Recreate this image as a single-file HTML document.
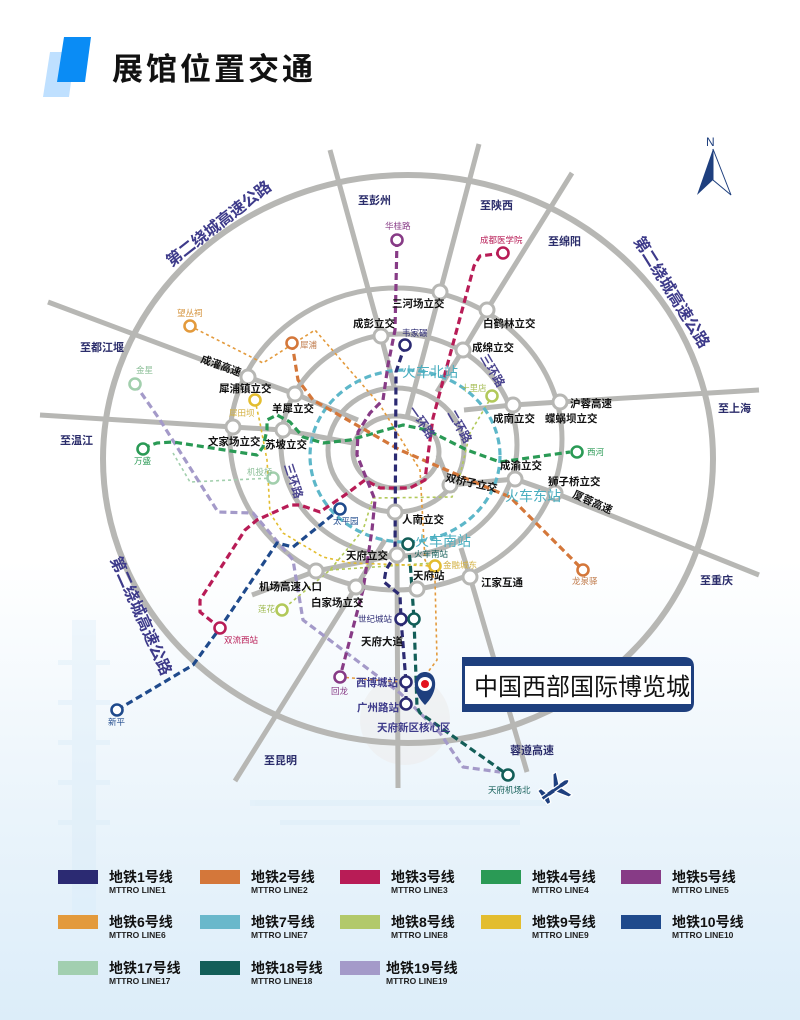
<!DOCTYPE html>
<html><head><meta charset="utf-8"><style>
html,body{margin:0;padding:0}
body{width:800px;height:1020px;overflow:hidden;background:linear-gradient(#ffffff 0%,#ffffff 55%,#eaf4fb 80%,#dcedf9 100%)}
svg{display:block}
text{font-family:"Liberation Sans","Noto Sans CJK SC",sans-serif}
.nl{font-size:10.5px;font-weight:bold;fill:#111}
.dir{font-size:11px;font-weight:bold;fill:#2b2d6b}
.st{font-size:8.5px;font-family:"Liberation Serif","Noto Serif CJK SC",serif}
.rd{fill:none;stroke:#b7b7b4;stroke-width:5}
.nd{fill:#fff;stroke:#b7b7b4;stroke-width:3}
.m{fill:none;stroke-width:3.2;stroke-dasharray:7 4;stroke-linejoin:round}
.d{fill:none;stroke-width:1.6;stroke-dasharray:3 3}
.s{fill:#fff;stroke-width:2.6}
.lg{font-size:14px;font-weight:bold;fill:#111}
.ls{font-size:8.5px;font-weight:bold;fill:#222}
</style></head><body>
<svg width="800" height="1020" viewBox="0 0 800 1020" xmlns="http://www.w3.org/2000/svg">
<!-- faint decorations -->
<circle cx="405" cy="720" r="45" fill="#ececec" opacity="0.6"/>
<g fill="#d6eaf8" opacity="0.35">
<rect x="72" y="620" width="24" height="300"/><rect x="58" y="660" width="52" height="5"/><rect x="58" y="700" width="52" height="5"/><rect x="58" y="740" width="52" height="5"/><rect x="58" y="780" width="52" height="5"/><rect x="58" y="820" width="52" height="5"/>
<rect x="250" y="800" width="300" height="6"/><rect x="280" y="820" width="240" height="5"/>
</g>
<!-- title -->
<polygon points="50,52 75,52 69,97 43,97" fill="#bfe0ff"/>
<polygon points="64,37 91,37 85,82 57,82" fill="#0a8cf5"/>
<text x="112" y="80" style="font-size:31px;font-weight:bold;fill:#111;letter-spacing:3px">展馆位置交通</text>
<!-- north -->
<text x="706" y="146" style="font-size:12px;fill:#1e3f7e">N</text>
<polygon points="713,149 697,195 713,180" fill="#1e3f7e"/>
<polygon points="713,149 731,195 713,180" fill="none" stroke="#1e3f7e" stroke-width="1"/>
<!-- roads -->
<ellipse class="rd" cx="408" cy="459" rx="305" ry="284" style="stroke-width:6"/>
<ellipse class="rd" cx="396" cy="439" rx="166" ry="151"/>
<ellipse class="rd" cx="399" cy="445" rx="118" ry="111"/>
<ellipse class="rd" cx="396" cy="450" rx="68" ry="62"/>
<ellipse class="rd" cx="396" cy="452" rx="43" ry="36"/>
<g class="rd">
<polyline points="330,150 381,336 395,390"/>
<polyline points="479,144 440,292 407,417"/>
<polyline points="572,173 487,310 463,350 437,392"/>
<polyline points="759,390 560,402 513,405 464,410"/>
<polyline points="759,575 555,493 515,479 450,485 438,455"/>
<polyline points="527,772 470,577 461,548"/>
<polyline points="398,788 397,555 396,512"/>
<polyline points="235,781 356,587 385,540"/>
<polyline points="252,595 316,571 397,555"/>
<polyline points="40,415 233,427 283,430 353,443"/>
<polyline points="48,302 248,377 295,394 358,420"/>
</g>
<!-- thin dotted lines -->
<polyline class="d" stroke="#e39a3c" points="190,326 263,363 315,330 380,405 420,470 425,560 435,580 437,660 428,672"/>
<polyline class="d" stroke="#e39a3c" points="340,677 400,682"/>
<polyline class="d" stroke="#b2c95a" points="492,396 470,433 460,475 452,497 373,498 363,530 330,570 282,610"/>
<polyline class="d" stroke="#b2c95a" points="330,570 433,563"/>
<polyline class="d" stroke="#e3bd2f" points="255,400 260,423 267,460 270,513 283,533 323,557 350,563 435,566"/>
<polyline class="d" stroke="#a2cfad" points="273,478 190,482 173,453"/>
<!-- metro lines -->
<ellipse class="m" stroke="#5db7c9" cx="405" cy="456" rx="95" ry="86"/>
<polyline class="m" stroke="#a49ac9" points="135,384 160,420 218,512 253,513 293,560 303,620 400,693 440,733 463,767 500,772"/>
<polyline class="m" stroke="#2a9a55" points="143,448 157,443 173,442 257,455 263,447 267,430 267,420 277,415 290,422 303,437 323,443 350,440 403,425 427,430 467,450 500,462 570,452"/>
<polyline class="m" stroke="#d4773a" points="292,343 298,380 313,400 400,450 493,490 510,497 583,570"/>
<polyline class="m" stroke="#b81c56" points="503,253 480,256 474,266 433,418 428,455 425,480 410,488 380,488 365,480 345,495 320,512 300,505 290,505 257,520 245,530 200,600 200,612 220,628"/>
<polyline class="m" stroke="#873b86" points="397,240 395,330 388,365 383,400 370,413 358,432 357,455 365,475 375,500 372,530 363,590 340,677"/>
<polyline class="m" stroke="#1f4a8c" points="117,710 193,665 220,628 277,543 293,547 340,509"/>
<polyline class="m" stroke="#135e58" points="408,544 410,560 414,619 417,707 420,713 508,775"/>
<polyline class="m" stroke="#2b2a72" points="405,345 396,372 395,555 386,570 384,582 400,595 401,619 406,682 406,704"/>
<!-- road nodes -->
<g class="nd">
<circle cx="440" cy="292" r="7"/><circle cx="487" cy="310" r="7"/><circle cx="381" cy="336" r="7"/><circle cx="463" cy="350" r="7"/>
<circle cx="248" cy="377" r="7"/><circle cx="295" cy="394" r="7"/><circle cx="233" cy="427" r="7"/><circle cx="283" cy="430" r="7"/>
<circle cx="513" cy="405" r="7"/><circle cx="560" cy="402" r="7"/><circle cx="515" cy="479" r="7"/><circle cx="555" cy="493" r="7"/>
<circle cx="450" cy="485" r="7"/><circle cx="395" cy="512" r="7"/><circle cx="397" cy="555" r="7"/><circle cx="316" cy="571" r="7"/>
<circle cx="356" cy="587" r="7"/><circle cx="417" cy="589" r="7"/><circle cx="470" cy="577" r="7"/>
</g>
<!-- metro stations -->
<g class="s">
<circle cx="397" cy="240" r="5.5" stroke="#873b86"/>
<circle cx="503" cy="253" r="5.5" stroke="#b81c56"/>
<circle cx="405" cy="345" r="5.5" stroke="#2b2a72"/>
<circle cx="190" cy="326" r="5.5" stroke="#e39a3c"/>
<circle cx="292" cy="343" r="5.5" stroke="#d4773a"/>
<circle cx="135" cy="384" r="5.5" stroke="#a2cfad"/>
<circle cx="255" cy="400" r="5.5" stroke="#e3bd2f"/>
<circle cx="492" cy="396" r="5.5" stroke="#b2c95a"/>
<circle cx="143" cy="449" r="5.5" stroke="#2a9a55"/>
<circle cx="577" cy="452" r="5.5" stroke="#2a9a55"/>
<circle cx="273" cy="478" r="5.5" stroke="#a2cfad"/>
<circle cx="340" cy="509" r="5.5" stroke="#1f4a8c"/>
<circle cx="408" cy="544" r="5.5" stroke="#135e58"/>
<circle cx="435" cy="566" r="5.5" stroke="#e3bd2f"/>
<circle cx="583" cy="570" r="5.5" stroke="#d4773a"/>
<circle cx="282" cy="610" r="5.5" stroke="#b2c95a"/>
<circle cx="401" cy="619" r="5.5" stroke="#2b2a72"/>
<circle cx="414" cy="619" r="5.5" stroke="#135e58"/>
<circle cx="220" cy="628" r="5.5" stroke="#b81c56"/>
<circle cx="340" cy="677" r="5.5" stroke="#873b86"/>
<circle cx="406" cy="682" r="5.5" stroke="#2b2a72"/>
<circle cx="406" cy="704" r="5.5" stroke="#2b2a72"/>
<circle cx="117" cy="710" r="5.5" stroke="#1f4a8c"/>
<circle cx="508" cy="775" r="5.5" stroke="#135e58"/>
</g>
<!-- direction labels -->
<g class="dir">
<text x="358" y="204">至彭州</text><text x="480" y="209">至陕西</text><text x="548" y="245">至绵阳</text>
<text x="718" y="412">至上海</text><text x="700" y="584">至重庆</text><text x="510" y="754">蓉遵高速</text>
<text x="264" y="764">至昆明</text><text x="80" y="351">至都江堰</text><text x="60" y="444">至温江</text>
</g>
<g style="font-size:16px;font-weight:bold;fill:#3d3a8a">
<text transform="translate(222,228) rotate(-38)" text-anchor="middle">第二绕城高速公路</text>
<text transform="translate(667,295) rotate(58)" text-anchor="middle">第二绕城高速公路</text>
<text transform="translate(136,618) rotate(66)" text-anchor="middle">第二绕城高速公路</text>
</g>
<!-- node labels -->
<g class="nl">
<text x="392" y="307">三河场立交</text><text x="353" y="327">成彭立交</text><text x="483" y="327">白鹤林立交</text>
<text x="472" y="351">成绵立交</text><text x="219" y="392">犀浦镇立交</text><text x="272" y="412">羊犀立交</text>
<text x="208" y="445">文家场立交</text><text x="265" y="448">苏坡立交</text><text x="493" y="422">成南立交</text>
<text x="545" y="422">蝶蜗坝立交</text><text x="570" y="407">沪蓉高速</text><text x="500" y="469">成渝立交</text>
<text x="548" y="485">狮子桥立交</text><text x="445" y="481" transform="rotate(12,445,481)">双桥子立交</text>
<text x="402" y="523">人南立交</text><text x="346" y="559">天府立交</text><text x="259" y="590">机场高速入口</text>
<text x="311" y="606">白家场立交</text><text x="413" y="579">天府站</text><text x="481" y="586">江家互通</text>
<text x="361" y="645">天府大道</text>
<text transform="translate(200,362) rotate(20)">成灌高速</text>
<text transform="translate(572,497) rotate(24)">厦蓉高速</text>
</g>
<!-- station labels -->
<g class="st">
<text x="385" y="229" fill="#873b86">华桂路</text><text x="480" y="243" fill="#b81c56">成都医学院</text>
<text x="402" y="336" fill="#2b2a72">韦家碾</text><text x="177" y="316" fill="#d4923a">望丛祠</text>
<text x="300" y="348" fill="#c07a4a">犀浦</text><text x="136" y="373" fill="#8cbf98">金星</text>
<text x="229" y="416" fill="#d3b040">犀田坝</text><text x="461" y="391" fill="#a6bd55">十里店</text>
<text x="134" y="464" fill="#2a9a55">万盛</text><text x="587" y="455" fill="#2a9a55">西河</text>
<text x="247" y="475" fill="#8cbf98">机投桥</text><text x="333" y="524" fill="#1f4a8c">太平园</text>
<text x="414" y="557" fill="#135e58">火车南站</text><text x="443" y="568" fill="#d3b040">金融城东</text>
<text x="572" y="584" fill="#c07a4a">龙泉驿</text><text x="258" y="612" fill="#9cb84a">莲花</text>
<text x="358" y="622" fill="#2b2a72">世纪城站</text><text x="224" y="643" fill="#b81c56">双流西站</text>
<text x="331" y="694" fill="#873b86">回龙</text><text x="108" y="725" fill="#1f4a8c">新平</text>
<text x="488" y="793" fill="#135e58">天府机场北</text>
</g>
<g style="font-size:10.5px;font-weight:bold;fill:#3d3a8a">
<text x="356" y="686">西博城站</text><text x="357" y="711">广州路站</text><text x="377" y="731">天府新区核心区</text>
</g>
<g style="font-size:14px;fill:#4aaebf">
<text x="402" y="377">火车北站</text><text x="505" y="501">火车东站</text><text x="415" y="546">火车南站</text>
</g>
<g style="font-size:12px;font-weight:bold;fill:#4b4590">
<text transform="translate(408,410) rotate(55)">一环路</text>
<text transform="translate(447,413) rotate(60)">二环路</text>
<text transform="translate(480,357) rotate(60)">三环路</text>
<text transform="translate(284,465) rotate(72)">三环路</text>
</g>
<!-- pin & box -->
<path d="M425,705 C410,690 413,672 425,672 C437,672 440,690 425,705 Z" fill="#1e3f7e"/>
<circle cx="425" cy="684" r="7" fill="#fff"/><circle cx="425" cy="684" r="4" fill="#e3121e"/>
<path d="M462,657 H684 Q694,657 694,667 V702 Q694,712 684,712 H462 Z" fill="#1e3f7e"/>
<rect x="465" y="666" width="226" height="38" fill="#fff"/>
<text x="474" y="695" style="font-size:24px;fill:#111">中国西部国际博览城</text>
<!-- plane -->
<g transform="translate(556,789) rotate(-35)" fill="#1e3f7e" stroke="#fff" stroke-width="1.2">
<path d="M-17,-2.5 L12,-2.5 Q19,0 12,2.5 L-17,2.5 Z"/>
<path d="M-2,-2 L6,-14 L10,-14 L5,-2 Z"/>
<path d="M-2,2 L6,14 L10,14 L5,2 Z"/>
<path d="M-16,-2 L-16,-9 L-12,-9 L-10,-2 Z"/>
<path d="M-16,2 L-16,8 L-12,8 L-10,2 Z"/>
</g>
<!-- legend -->
<g>
<rect x="58" y="870" width="40" height="14" fill="#2b2a72"/><text x="109" y="882" class="lg">地铁1号线</text><text x="109" y="893" class="ls">MTTRO LINE1</text>
<rect x="200" y="870" width="40" height="14" fill="#d4773a"/><text x="251" y="882" class="lg">地铁2号线</text><text x="251" y="893" class="ls">MTTRO LINE2</text>
<rect x="340" y="870" width="40" height="14" fill="#b81c56"/><text x="391" y="882" class="lg">地铁3号线</text><text x="391" y="893" class="ls">MTTRO LINE3</text>
<rect x="481" y="870" width="40" height="14" fill="#2a9a55"/><text x="532" y="882" class="lg">地铁4号线</text><text x="532" y="893" class="ls">MTTRO LINE4</text>
<rect x="621" y="870" width="40" height="14" fill="#873b86"/><text x="672" y="882" class="lg">地铁5号线</text><text x="672" y="893" class="ls">MTTRO LINE5</text>
<rect x="58" y="915" width="40" height="14" fill="#e39a3c"/><text x="109" y="927" class="lg">地铁6号线</text><text x="109" y="938" class="ls">MTTRO LINE6</text>
<rect x="200" y="915" width="40" height="14" fill="#6ab8cb"/><text x="251" y="927" class="lg">地铁7号线</text><text x="251" y="938" class="ls">MTTRO LINE7</text>
<rect x="340" y="915" width="40" height="14" fill="#b2c96a"/><text x="391" y="927" class="lg">地铁8号线</text><text x="391" y="938" class="ls">MTTRO LINE8</text>
<rect x="481" y="915" width="40" height="14" fill="#e3bd2f"/><text x="532" y="927" class="lg">地铁9号线</text><text x="532" y="938" class="ls">MTTRO LINE9</text>
<rect x="621" y="915" width="40" height="14" fill="#1f4a8c"/><text x="672" y="927" class="lg">地铁10号线</text><text x="672" y="938" class="ls">MTTRO LINE10</text>
<rect x="58" y="961" width="40" height="14" fill="#a2cfb0"/><text x="109" y="973" class="lg">地铁17号线</text><text x="109" y="984" class="ls">MTTRO LINE17</text>
<rect x="200" y="961" width="40" height="14" fill="#135e58"/><text x="251" y="973" class="lg">地铁18号线</text><text x="251" y="984" class="ls">MTTRO LINE18</text>
<rect x="340" y="961" width="40" height="14" fill="#a49ac9"/><text x="386" y="973" class="lg">地铁19号线</text><text x="386" y="984" class="ls">MTTRO LINE19</text>
</g>
</svg>
</body></html>
